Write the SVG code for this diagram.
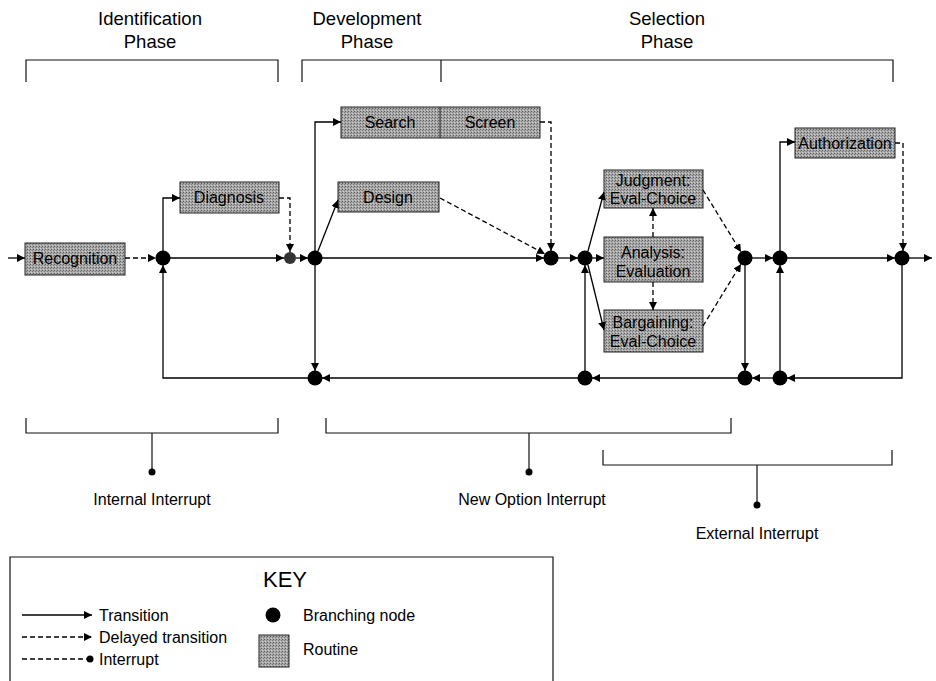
<svg xmlns="http://www.w3.org/2000/svg" width="936" height="681" viewBox="0 0 936 681">
  <style>
    text { font-family: "Liberation Sans", Arial, sans-serif; fill: #000; }
    .phase { font-size: 18.5px; text-anchor: middle; }
    .lbl { font-size: 16px; text-anchor: middle; }
    .small { font-size: 16px; text-anchor: middle; }
    .key { font-size: 16px; }
    .routine { fill: url(#grain); stroke: #222; stroke-width: 1; }
    .br { fill: none; stroke: #111; stroke-width: 1.2; }
    .solid { fill: none; stroke: #000; stroke-width: 1.3; marker-end: url(#arrow); }
    .dash { fill: none; stroke: #000; stroke-width: 1.3; stroke-dasharray: 5 3; marker-end: url(#arrow); }
    .node { fill: #000; }
  </style>
  <defs>
    <pattern id="grain" width="3" height="3" patternUnits="userSpaceOnUse">
      <rect width="3" height="3" fill="#a8a8a8"/>
      <rect width="1" height="1" fill="#5e5e5e"/>
      <rect x="2" y="1" width="1" height="1" fill="#7c7c7c"/>
      <rect x="1" y="2" width="1" height="1" fill="#cfcfcf"/>
    </pattern>
    <marker id="arrow" viewBox="0 0 10 10" refX="10" refY="5" markerWidth="8" markerHeight="8" markerUnits="userSpaceOnUse" orient="auto">
      <path d="M0,0 L10,5 L0,10 z" fill="#000"/>
    </marker>
  </defs>

  <!-- phase headings and brackets -->
  <g id="phases">
    <text class="phase" x="150" y="25">Identification</text>
    <text class="phase" x="150" y="48">Phase</text>
    <text class="phase" x="367" y="25">Development</text>
    <text class="phase" x="367" y="48">Phase</text>
    <text class="phase" x="667" y="25">Selection</text>
    <text class="phase" x="667" y="48">Phase</text>
    <path class="br" d="M26,82 V60 H278 V82"/>
    <path class="br" d="M302,82 V60 H893 V82 M441,60 V82"/>
  </g>

  <!-- routines -->
  <g id="recognition">
    <rect class="routine" x="25" y="243" width="100" height="32"/>
    <text class="lbl" x="75" y="264">Recognition</text>
  </g>
  <g id="diagnosis">
    <rect class="routine" x="180" y="182" width="99" height="31"/>
    <text class="lbl" x="229" y="203">Diagnosis</text>
  </g>
  <g id="search-screen">
    <rect class="routine" x="341" y="107" width="199" height="31"/>
    <line x1="440" y1="107" x2="440" y2="138" stroke="#222" stroke-width="1"/>
    <text class="lbl" x="390" y="128">Search</text>
    <text class="lbl" x="490" y="128">Screen</text>
  </g>
  <g id="design">
    <rect class="routine" x="338" y="182" width="101" height="30"/>
    <text class="lbl" x="388" y="203">Design</text>
  </g>
  <g id="judgment">
    <rect class="routine" x="604" y="170" width="99" height="38"/>
    <text class="lbl" x="653" y="186">Judgment:</text>
    <text class="lbl" x="653" y="204">Eval-Choice</text>
  </g>
  <g id="analysis">
    <rect class="routine" x="604" y="237" width="99" height="45"/>
    <text class="lbl" x="653" y="258">Analysis:</text>
    <text class="lbl" x="653" y="277">Evaluation</text>
  </g>
  <g id="bargaining">
    <rect class="routine" x="604" y="310" width="99" height="42"/>
    <text class="lbl" x="653" y="328">Bargaining:</text>
    <text class="lbl" x="653" y="347">Eval-Choice</text>
  </g>
  <g id="authorization">
    <rect class="routine" x="795" y="128" width="100" height="30"/>
    <text class="lbl" x="845" y="149">Authorization</text>
  </g>

  <!-- branching nodes -->
  <g id="n1"><circle class="node" cx="163" cy="258" r="7.5"/></g>
  <g id="n2"><circle cx="290" cy="258" r="6" fill="#333"/></g>
  <g id="n3"><circle class="node" cx="315" cy="258" r="7.5"/></g>
  <g id="n4"><circle class="node" cx="551" cy="258" r="7.5"/></g>
  <g id="n5"><circle class="node" cx="585" cy="258" r="7.5"/></g>
  <g id="n6"><circle class="node" cx="745" cy="258" r="7.5"/></g>
  <g id="n7"><circle class="node" cx="780" cy="258" r="7.5"/></g>
  <g id="n8"><circle class="node" cx="902" cy="258" r="7.5"/></g>
  <g id="n9"><circle class="node" cx="315" cy="378" r="7.5"/></g>
  <g id="n10"><circle class="node" cx="585" cy="378" r="7.5"/></g>
  <g id="n11"><circle class="node" cx="745" cy="378" r="7.5"/></g>
  <g id="n12"><circle class="node" cx="780" cy="378" r="7.5"/></g>

  <!-- connectors -->
  <g id="connectors">
    <path class="solid" d="M8,258 H25"/>
    <path class="dash" d="M125,258 H156"/>
    <path class="solid" d="M163,251 V198 H180"/>
    <path class="solid" d="M170,258 H284"/>
    <path class="dash" d="M279,198 H290 V252"/>
    <path class="solid" d="M296,258 H308"/>
    <path class="solid" d="M315,251 V122 H341"/>
    <path class="solid" d="M318,251 L338,200"/>
    <path class="solid" d="M322,258 H544"/>
    <path class="solid" d="M315,265 V371"/>
    <path class="dash" d="M540,122 H551 V251"/>
    <path class="dash" d="M440,198 L545,254"/>
    <path class="solid" d="M558,258 H578"/>
    <path class="solid" d="M588,251 L604,192"/>
    <path class="solid" d="M592,258 H604"/>
    <path class="solid" d="M588,265 L604,330"/>
    <path class="dash" d="M653,237 V208"/>
    <path class="dash" d="M653,282 V310"/>
    <path class="dash" d="M703,190 L741,252"/>
    <path class="dash" d="M703,326 L741,264"/>
    <path class="solid" d="M752,258 H773"/>
    <path class="solid" d="M780,251 V142 H795"/>
    <path class="dash" d="M895,143 H903 V251"/>
    <path class="solid" d="M787,258 H895"/>
    <path class="solid" d="M909,258 H932"/>
    <path class="solid" d="M902,265 V378 H787"/>
    <path class="solid" d="M780,371 V265"/>
    <path class="solid" d="M773,378 H752"/>
    <path class="solid" d="M745,265 V371"/>
    <path class="solid" d="M738,378 H592"/>
    <path class="solid" d="M585,371 V265"/>
    <path class="solid" d="M578,378 H322"/>
    <path class="solid" d="M308,378 H163 V265"/>
  </g>

  <!-- interrupt brackets -->
  <g id="internal-interrupt">
    <path class="br" d="M26,418 V433 H278 V418 M152,433 V472"/>
    <circle cx="152" cy="472" r="3.5" fill="#000"/>
    <text class="small" x="152" y="505">Internal Interrupt</text>
  </g>
  <g id="new-option-interrupt">
    <path class="br" d="M326,418 V433 H731 V418 M529,433 V472"/>
    <circle cx="529" cy="472" r="3.5" fill="#000"/>
    <text class="small" x="532" y="505">New Option Interrupt</text>
  </g>
  <g id="external-interrupt">
    <path class="br" d="M603,450 V465 H892 V450 M757,465 V505"/>
    <circle cx="757" cy="505" r="3.5" fill="#000"/>
    <text class="small" x="757" y="539">External Interrupt</text>
  </g>

  <!-- legend -->
  <g id="key">
    <path d="M10,690 V557 H553 V690" fill="none" stroke="#111" stroke-width="1.2"/>
    <text x="285" y="587" font-size="22" text-anchor="middle">KEY</text>
    <path class="solid" d="M22,615 H92"/>
    <text class="key" x="99" y="621">Transition</text>
    <path class="dash" d="M22,637 H92"/>
    <text class="key" x="99" y="643">Delayed transition</text>
    <path d="M22,659 H87" fill="none" stroke="#000" stroke-width="1.3" stroke-dasharray="5 3"/>
    <circle cx="90" cy="659" r="3.5" fill="#000"/>
    <text class="key" x="99" y="665">Interrupt</text>
    <circle cx="273" cy="615" r="7.5" fill="#000"/>
    <text class="key" x="303" y="621">Branching node</text>
    <rect class="routine" x="259" y="635" width="30" height="32"/>
    <text class="key" x="303" y="655">Routine</text>
  </g>
</svg>
